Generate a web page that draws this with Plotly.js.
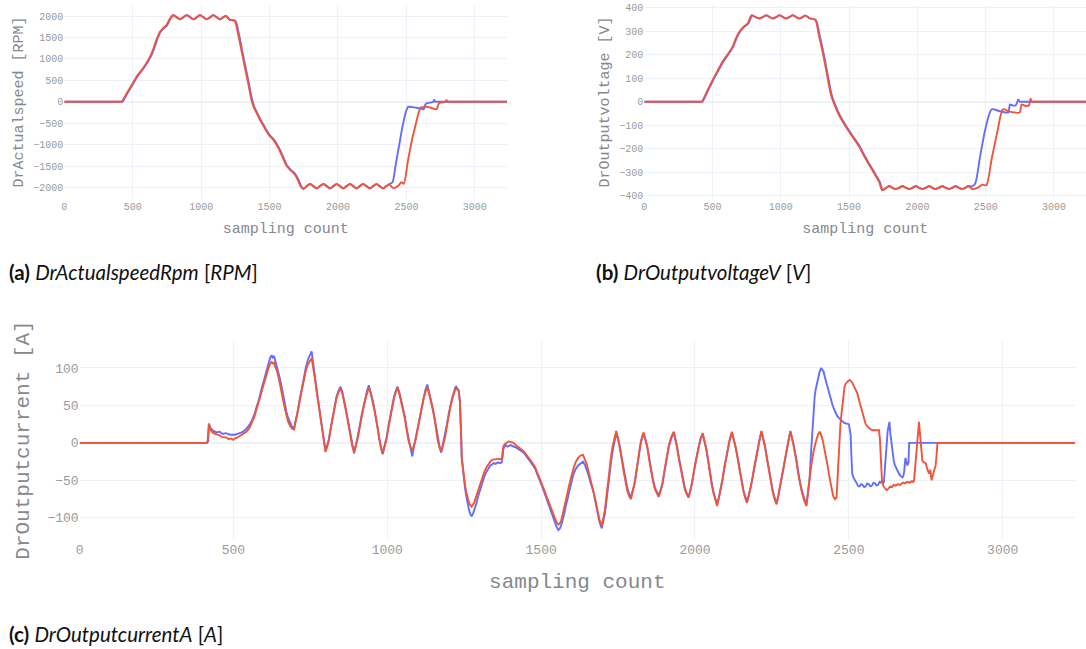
<!DOCTYPE html>
<html>
<head>
<meta charset="utf-8">
<script src="https://cdn.plot.ly/plotly-3.0.1.min.js"></script>
<style>
html,body{margin:0;padding:0;background:#fff;}
#chart{width:1086px;height:649px;}
</style>
</head>
<body>
<div id="chart"></div>
<script>
// ---------- data (sample index, value) ----------
const speedBlue = [[0,0],[390,0],[412,0],[418,0],[425,0],[460,190],[505,430],[540,620],[580,780],[630,1040],[655,1230],[680,1460],[703,1630],[725,1710],[752,1790],[778,1950],[800,2020],[822,1975],[847,1922],[870,1970],[897,2020],[920,1975],[945,1922],[968,1970],[993,2020],[1016,1975],[1040,1922],[1065,1970],[1090,2020],[1113,1975],[1138,1922],[1160,1970],[1183,2000],[1210,1910],[1250,1890],[1276,1580],[1300,1190],[1325,800],[1350,410],[1373,40],[1390,-130],[1410,-260],[1433,-410],[1460,-560],[1482,-690],[1505,-790],[1530,-880],[1555,-1000],[1580,-1150],[1605,-1330],[1628,-1490],[1655,-1590],[1680,-1660],[1700,-1750],[1715,-1850],[1735,-1990],[1750,-2030],[1772,-1970],[1798,-1920],[1822,-1970],[1847,-2020],[1870,-1970],[1896,-1920],[1920,-1970],[1944,-2020],[1968,-1970],[1992,-1920],[2016,-1970],[2040,-2020],[2064,-1970],[2089,-1920],[2112,-1970],[2137,-2020],[2160,-1970],[2184,-1920],[2208,-1970],[2234,-2020],[2258,-1970],[2282,-1920],[2305,-1970],[2330,-2020],[2352,-1970],[2376,-1920],[2398,-1880],[2420,-1500],[2445,-1050],[2470,-600],[2495,-250],[2513,-120],[2545,-125],[2575,-140],[2605,-160],[2627,-178],[2632,-120],[2640,-60],[2647,-40],[2671,-20],[2695,-8],[2703,50],[2710,0],[2716,0],[2730,0],[2760,0],[3235,0]];
const speedRed = [[0,0],[385,0],[407,0],[414,0],[420,0],[455,190],[500,430],[535,620],[575,780],[625,1040],[650,1230],[675,1460],[698,1630],[720,1710],[747,1790],[773,1950],[796,2025],[818,1975],[845,1925],[868,1970],[894,2025],[918,1975],[942,1925],[966,1970],[991,2025],[1015,1975],[1040,1925],[1064,1970],[1088,2025],[1112,1975],[1137,1925],[1160,1970],[1181,2005],[1210,1915],[1245,1890],[1270,1580],[1295,1190],[1320,800],[1345,410],[1368,40],[1385,-130],[1405,-260],[1428,-410],[1455,-560],[1477,-690],[1500,-790],[1525,-880],[1550,-1000],[1575,-1150],[1600,-1330],[1623,-1490],[1650,-1590],[1675,-1660],[1695,-1750],[1710,-1850],[1730,-1990],[1746,-2035],[1770,-1970],[1794,-1920],[1818,-1970],[1843,-2025],[1867,-1970],[1892,-1920],[1916,-1970],[1941,-2025],[1965,-1970],[1989,-1920],[2013,-1970],[2038,-2025],[2062,-1970],[2087,-1920],[2110,-1970],[2135,-2025],[2158,-1970],[2184,-1920],[2207,-1970],[2233,-2025],[2256,-1970],[2281,-1920],[2305,-1970],[2330,-2025],[2352,-1970],[2374,-1930],[2403,-2015],[2440,-1960],[2464,-1880],[2481,-1915],[2510,-1400],[2540,-900],[2570,-500],[2603,-140],[2625,-125],[2647,-116],[2680,-140],[2720,-178],[2730,-100],[2737,-40],[2744,-23],[2781,-5],[2793,38],[2800,0],[2806,0],[2820,0],[2850,0],[3235,0]];

const voltBlue = [[0,0],[390,0],[412,0],[418,0],[425,0],[465,45],[505,92],[545,135],[580,172],[620,205],[650,232],[675,268],[700,296],[735,320],[762,332],[790,366],[815,360],[845,353],[870,360],[894,367],[918,360],[942,353],[968,360],[991,367],[1016,360],[1040,353],[1065,360],[1088,367],[1113,360],[1137,353],[1160,360],[1181,366],[1212,354],[1257,347],[1283,285],[1310,215],[1340,125],[1372,30],[1395,-8],[1430,-55],[1478,-103],[1520,-140],[1575,-187],[1610,-225],[1648,-264],[1675,-290],[1700,-315],[1725,-340],[1746,-373],[1770,-366],[1794,-358],[1818,-365],[1843,-370],[1867,-365],[1892,-358],[1916,-365],[1941,-370],[1965,-365],[1989,-358],[2013,-365],[2038,-370],[2062,-365],[2087,-358],[2110,-365],[2135,-370],[2158,-365],[2184,-358],[2207,-365],[2233,-370],[2256,-365],[2281,-358],[2305,-365],[2330,-370],[2352,-365],[2374,-358],[2398,-360],[2423,-348],[2460,-230],[2500,-110],[2544,-32],[2598,-39],[2666,-46],[2672,-30],[2678,-11],[2695,-15],[2720,-16],[2739,10],[2749,0],[2755,0],[2770,0],[2800,0],[3235,0]];
const voltRed = [[0,0],[385,0],[407,0],[414,0],[420,0],[460,45],[500,92],[540,135],[575,172],[615,205],[645,232],[670,268],[695,296],[730,320],[757,332],[786,368],[812,360],[842,354],[868,360],[892,368],[916,360],[940,354],[966,360],[989,368],[1014,360],[1038,354],[1063,360],[1086,368],[1111,360],[1135,354],[1158,360],[1179,367],[1210,355],[1252,348],[1278,285],[1305,215],[1335,125],[1367,30],[1390,-8],[1425,-55],[1473,-103],[1515,-140],[1570,-187],[1605,-225],[1643,-264],[1670,-290],[1695,-315],[1720,-340],[1742,-376],[1768,-367],[1792,-359],[1816,-366],[1841,-371],[1865,-366],[1890,-359],[1914,-366],[1939,-371],[1963,-366],[1987,-359],[2011,-366],[2036,-371],[2060,-366],[2085,-359],[2108,-366],[2133,-371],[2156,-366],[2182,-359],[2205,-366],[2231,-371],[2254,-366],[2279,-359],[2303,-366],[2328,-371],[2350,-366],[2372,-359],[2400,-370],[2440,-366],[2476,-352],[2505,-355],[2545,-240],[2585,-130],[2627,-32],[2671,-41],[2749,-46],[2757,-28],[2764,-11],[2793,-18],[2817,-16],[2829,13],[2837,0],[2843,0],[2860,0],[2890,0],[3235,0]];

const currBlue = [[0,0],[415,0],[418,3],[421,25],[425,20],[435,16],[445,14],[455,15],[465,12],[475,13],[490,11],[505,11],[520,13],[532,15],[542,19],[552,24],[560,30],[568,38],[575,48],[583,58],[590,70],[596,79],[602,88],[608,97],[614,106],[619,113],[624,117],[628,114],[632,116],[636,110],[640,106],[646,96],[651,86],[657,74],[662,62],[667,52],[672,42],[678,33],[685,25],[691,21],[697,20],[702,28],[708,40],[714,55],[721,71],[728,86],[735,100],[742,111],[748,118],[754,122],[757,113],[760,105],[765,88],[770,72],[776,55],[781,40],[786,26],[790,12],[795,0],[799,-10],[804,-4],[810,5],[816,20],[822,35],[829,50],[835,62],[842,70],[848,75],[854,68],[860,58],[865,46],[870,35],[876,21],[881,8],[886,-4],[892,-14],[898,-3],[905,10],[911,24],[917,38],[924,52],[930,62],[935,71],[940,77],[946,68],[952,58],[958,46],[963,35],[969,19],[974,5],[979,-6],[985,-15],[991,-4],[998,8],[1004,23],[1010,38],[1016,51],[1022,62],[1028,70],[1033,75],[1039,68],[1045,58],[1051,46],[1057,35],[1063,19],[1069,5],[1075,-8],[1081,-18],[1087,-4],[1093,8],[1100,23],[1106,38],[1112,51],[1118,62],[1124,71],[1130,78],[1136,68],[1142,58],[1148,46],[1153,35],[1159,19],[1164,5],[1170,-5],[1175,-13],[1181,-2],[1188,10],[1194,25],[1200,40],[1206,52],[1212,62],[1218,70],[1223,76],[1228,72],[1232,70],[1236,55],[1238,40],[1240,10],[1242,-20],[1245,-35],[1248,-45],[1252,-58],[1256,-70],[1261,-82],[1266,-90],[1270,-95],[1274,-98],[1279,-94],[1284,-88],[1290,-80],[1296,-70],[1303,-60],[1310,-50],[1316,-44],[1323,-38],[1329,-34],[1335,-30],[1340,-29],[1345,-27],[1352,-28],[1360,-26],[1366,-27],[1372,-26],[1375,-18],[1377,-8],[1381,-5],[1385,-3],[1390,-5],[1394,-4],[1402,-3],[1410,-5],[1418,-6],[1425,-8],[1433,-10],[1440,-12],[1447,-15],[1453,-18],[1459,-21],[1465,-24],[1472,-29],[1480,-34],[1488,-42],[1497,-50],[1504,-59],[1512,-68],[1520,-77],[1529,-88],[1536,-97],[1543,-105],[1550,-112],[1556,-116],[1561,-114],[1565,-110],[1570,-103],[1575,-95],[1580,-85],[1585,-75],[1590,-66],[1594,-58],[1600,-50],[1605,-42],[1612,-35],[1620,-30],[1628,-27],[1636,-25],[1642,-29],[1648,-35],[1654,-43],[1660,-52],[1665,-58],[1670,-65],[1677,-80],[1684,-95],[1690,-106],[1697,-114],[1702,-106],[1707,-95],[1711,-82],[1714,-70],[1718,-55],[1722,-40],[1727,-26],[1732,-12],[1738,2],[1744,13],[1750,5],[1756,-5],[1762,-20],[1768,-35],[1774,-48],[1780,-60],[1786,-68],[1792,-72],[1797,-64],[1803,-55],[1808,-42],[1812,-30],[1817,-17],[1822,-5],[1827,5],[1833,12],[1839,4],[1845,-5],[1851,-20],[1857,-35],[1863,-48],[1870,-60],[1876,-66],[1882,-70],[1888,-63],[1894,-55],[1899,-42],[1904,-30],[1910,-17],[1915,-5],[1923,6],[1931,14],[1936,5],[1942,-5],[1948,-20],[1955,-35],[1961,-48],[1967,-60],[1973,-67],[1979,-72],[1985,-63],[1990,-55],[1995,-42],[2000,-30],[2006,-17],[2012,-5],[2018,5],[2025,12],[2031,2],[2037,-8],[2043,-23],[2048,-38],[2054,-52],[2060,-65],[2066,-74],[2072,-82],[2078,-72],[2084,-62],[2090,-48],[2095,-35],[2101,-21],[2107,-8],[2113,4],[2120,14],[2126,5],[2132,-5],[2139,-20],[2145,-35],[2151,-49],[2157,-62],[2163,-71],[2169,-79],[2175,-69],[2181,-60],[2187,-47],[2192,-35],[2198,-21],[2204,-8],[2210,4],[2216,15],[2222,5],[2228,-5],[2234,-20],[2240,-35],[2246,-49],[2252,-62],[2258,-72],[2265,-81],[2271,-70],[2276,-60],[2282,-47],[2287,-35],[2293,-21],[2298,-8],[2304,4],[2310,15],[2316,5],[2322,-5],[2329,-21],[2335,-38],[2341,-52],[2348,-65],[2355,-75],[2362,-83],[2367,-68],[2372,-50],[2376,-20],[2380,10],[2383,30],[2386,50],[2389,62],[2392,71],[2396,80],[2400,88],[2405,95],[2410,100],[2414,97],[2418,95],[2422,88],[2427,80],[2431,73],[2435,67],[2440,60],[2446,52],[2451,46],[2457,40],[2462,36],[2468,33],[2473,31],[2478,29],[2484,27],[2490,26],[2495,25],[2500,25],[2503,18],[2506,10],[2508,-15],[2511,-41],[2515,-46],[2520,-50],[2523,-53],[2527,-55],[2531,-58],[2535,-58],[2540,-55],[2545,-56],[2550,-59],[2555,-58],[2560,-54],[2565,-55],[2570,-58],[2575,-57],[2580,-53],[2585,-54],[2590,-57],[2595,-56],[2600,-52],[2604,-53],[2608,-50],[2611,-54],[2614,-52],[2617,-35],[2619,-20],[2623,0],[2626,15],[2629,22],[2632,28],[2635,12],[2638,0],[2642,-12],[2646,-24],[2650,-30],[2655,-35],[2659,-38],[2663,-41],[2668,-44],[2674,-46],[2677,-44],[2680,-38],[2682,-28],[2684,-20],[2687,-25],[2690,-30],[2692,-28],[2694,-25],[2696,0],[2790,0],[3235,0]];

const currRed = [[0,0],[412,0],[416,2],[420,26],[425,18],[432,14],[440,12],[448,11],[455,10],[462,8],[470,8],[478,7],[485,5],[492,6],[500,4],[505,6],[512,7],[520,9],[532,12],[542,15],[552,20],[560,27],[568,35],[575,45],[583,55],[590,66],[596,75],[602,84],[608,92],[614,100],[619,105],[624,108],[628,106],[632,107],[636,101],[640,98],[646,89],[651,80],[657,68],[662,56],[667,46],[672,36],[678,28],[685,22],[691,19],[697,18],[702,27],[708,38],[714,53],[721,68],[728,82],[735,96],[742,105],[748,110],[754,113],[757,106],[760,100],[765,85],[770,70],[776,53],[781,38],[786,24],[790,10],[795,-2],[799,-12],[804,-6],[810,3],[816,18],[822,33],[829,48],[835,60],[842,68],[848,73],[854,66],[860,56],[865,44],[870,33],[876,19],[881,6],[886,-4],[892,-12],[898,-3],[905,8],[911,22],[917,36],[924,50],[930,60],[935,68],[940,74],[946,66],[952,56],[958,44],[963,33],[969,17],[974,3],[979,-6],[985,-14],[991,-5],[998,6],[1004,21],[1010,36],[1016,49],[1022,60],[1028,68],[1033,73],[1039,66],[1045,56],[1051,44],[1057,33],[1063,17],[1069,3],[1075,-5],[1081,-10],[1087,-3],[1093,6],[1100,21],[1106,36],[1112,49],[1118,60],[1124,68],[1130,74],[1136,66],[1142,56],[1148,44],[1153,33],[1159,17],[1164,3],[1170,-6],[1175,-12],[1181,-3],[1188,8],[1194,23],[1200,38],[1206,50],[1212,60],[1218,68],[1223,74],[1228,71],[1232,70],[1236,55],[1238,40],[1240,10],[1242,-20],[1245,-32],[1248,-42],[1252,-54],[1256,-65],[1261,-74],[1266,-80],[1270,-83],[1274,-85],[1279,-82],[1284,-78],[1290,-70],[1296,-62],[1303,-52],[1310,-44],[1316,-38],[1323,-32],[1329,-28],[1335,-25],[1340,-23],[1345,-22],[1352,-22],[1360,-21],[1366,-22],[1372,-21],[1375,-12],[1377,-5],[1381,-2],[1385,0],[1390,1],[1394,2],[1402,1],[1410,0],[1418,-3],[1425,-5],[1433,-8],[1440,-10],[1447,-13],[1453,-16],[1459,-19],[1465,-22],[1472,-27],[1480,-32],[1488,-40],[1497,-48],[1504,-57],[1512,-65],[1520,-74],[1529,-84],[1536,-93],[1543,-100],[1550,-106],[1556,-109],[1561,-107],[1565,-104],[1570,-96],[1575,-88],[1580,-78],[1585,-68],[1590,-58],[1594,-50],[1600,-42],[1605,-34],[1612,-26],[1620,-20],[1628,-17],[1636,-16],[1642,-21],[1648,-28],[1654,-38],[1660,-48],[1665,-55],[1670,-62],[1677,-77],[1684,-92],[1690,-103],[1697,-111],[1702,-102],[1707,-90],[1711,-76],[1714,-64],[1718,-48],[1722,-33],[1727,-19],[1732,-5],[1738,7],[1744,16],[1750,6],[1756,-6],[1762,-22],[1768,-38],[1774,-52],[1780,-64],[1786,-71],[1792,-75],[1797,-66],[1803,-56],[1808,-43],[1812,-30],[1817,-16],[1822,-3],[1827,7],[1833,14],[1839,5],[1845,-6],[1851,-22],[1857,-37],[1863,-50],[1870,-62],[1876,-68],[1882,-72],[1888,-64],[1894,-55],[1899,-42],[1904,-29],[1910,-16],[1915,-3],[1923,8],[1931,15],[1936,6],[1942,-6],[1948,-22],[1955,-37],[1961,-50],[1967,-62],[1973,-68],[1979,-73],[1985,-64],[1990,-55],[1995,-42],[2000,-29],[2006,-16],[2012,-3],[2018,6],[2025,13],[2031,3],[2037,-9],[2043,-25],[2048,-40],[2054,-55],[2060,-67],[2066,-77],[2072,-84],[2078,-73],[2084,-62],[2090,-47],[2095,-33],[2101,-19],[2107,-6],[2113,5],[2120,15],[2126,6],[2132,-6],[2139,-22],[2145,-37],[2151,-51],[2157,-64],[2163,-73],[2169,-80],[2175,-70],[2181,-59],[2187,-46],[2192,-33],[2198,-19],[2204,-6],[2210,5],[2216,16],[2222,6],[2228,-6],[2234,-22],[2240,-37],[2246,-51],[2252,-64],[2258,-74],[2265,-82],[2271,-70],[2276,-59],[2282,-46],[2287,-33],[2293,-19],[2298,-6],[2304,5],[2310,16],[2316,6],[2322,-6],[2329,-23],[2335,-40],[2341,-54],[2348,-67],[2355,-77],[2362,-84],[2368,-62],[2374,-40],[2380,-24],[2386,-10],[2390,-2],[2395,5],[2400,11],[2405,15],[2409,12],[2412,8],[2416,2],[2419,-5],[2423,-12],[2427,-20],[2431,-30],[2435,-41],[2439,-50],[2442,-58],[2446,-65],[2449,-71],[2452,-73],[2455,-75],[2458,-73],[2460,-74],[2463,-50],[2466,-20],[2470,5],[2473,27],[2477,42],[2480,55],[2483,66],[2486,75],[2490,79],[2495,82],[2499,83],[2503,84],[2507,82],[2512,80],[2516,76],[2520,72],[2524,69],[2527,67],[2532,59],[2538,50],[2543,40],[2549,31],[2554,26],[2560,22],[2565,20],[2571,18],[2578,17],[2585,17],[2591,18],[2598,17],[2601,5],[2603,-10],[2606,-35],[2608,-53],[2612,-57],[2616,-60],[2620,-62],[2624,-63],[2630,-60],[2635,-58],[2640,-59],[2646,-56],[2652,-57],[2660,-55],[2667,-56],[2675,-53],[2682,-54],[2690,-52],[2697,-53],[2705,-51],[2709,-52],[2712,-50],[2715,-35],[2718,-20],[2720,-2],[2723,15],[2725,22],[2728,28],[2730,18],[2733,5],[2736,-10],[2739,-24],[2744,-26],[2750,-27],[2755,-35],[2761,-41],[2763,-38],[2765,-36],[2767,-44],[2769,-50],[2771,-46],[2774,-42],[2777,-38],[2780,-34],[2782,-30],[2784,-22],[2786,-15],[2788,0],[3235,0]];

// ---------- texts ----------
const xTitle = 'sampling count';
const yTitles = ['DrActualspeed [RPM]', 'DrOutputvoltage [V]', 'DrOutputcurrent [A]'];
const captions = [
  '<b>(a)</b> <i>DrActualspeedRpm</i> [<i>RPM</i>]',
  '<b>(b)</b> <i>DrOutputvoltageV</i> [<i>V</i>]',
  '<b>(c)</b> <i>DrOutputcurrentA</i> [<i>A</i>]'
];
const xTicks = [0, 500, 1000, 1500, 2000, 2500, 3000];

// ---------- build ----------
const W = 1086, H = 649;
const BLUE = '#636efa', RED = '#EF553B';
const px = v => v / W;
const py = v => 1 - v / H;

function tr(pairs, color, xa, ya, w, smooth) {
  return {
    x: pairs.map(p => p[0]), y: pairs.map(p => p[1]),
    type: 'scatter', mode: 'lines', xaxis: xa, yaxis: ya,
    line: smooth ? {color: color, width: w, shape: 'spline', smoothing: 0.7} : {color: color, width: w},
    hoverinfo: 'skip', showlegend: false
  };
}

const data = [
  tr(speedBlue, BLUE, 'x', 'y', 1.9, true), tr(speedRed, RED, 'x', 'y', 1.9, true),
  tr(voltBlue, BLUE, 'x2', 'y2', 1.9, true), tr(voltRed, RED, 'x2', 'y2', 1.9, true),
  tr(currBlue, BLUE, 'x3', 'y3', 1.9, false), tr(currRed, RED, 'x3', 'y3', 1.9, false)
];

const MONO = 'Courier New, Liberation Mono, monospace';
const GRID = '#EDF1F8';
const TICKC = '#9a9a9a';
const TITC = '#85888f';

function xax(dom, anchor, tsize, titleSize, standoff) {
  return {
    domain: dom, anchor: anchor, range: [0, 3235],
    tickvals: xTicks, ticktext: xTicks.map(String),
    showgrid: true, gridcolor: GRID, zeroline: false, showline: false, ticks: '',
    tickfont: {family: MONO, size: tsize, color: TICKC},
    title: {text: xTitle, font: {family: MONO, size: titleSize, color: TITC}, standoff: standoff},
    automargin: false
  };
}
function yax(dom, anchor, range, dtick, tsize, title, titleSize, standoff) {
  return {
    domain: dom, anchor: anchor, range: range, dtick: dtick,
    showgrid: true, gridcolor: GRID, zeroline: true, zerolinecolor: GRID, zerolinewidth: 2,
    showline: false, ticks: '',
    tickfont: {family: MONO, size: tsize, color: TICKC},
    title: {text: title, font: {family: MONO, size: titleSize, color: TITC}, standoff: standoff},
    automargin: false
  };
}

const CAP = {family: 'Lato', size: 20.5, color: '#111'};

const layout = {
  width: W, height: H,
  margin: {l: 0, r: 0, t: 0, b: 0},
  paper_bgcolor: '#fff', plot_bgcolor: '#fff',
  showlegend: false,
  xaxis:  xax([px(64.3), px(507)], 'y', 10, 15, 10),
  yaxis:  yax([py(199), py(5)], 'x', [-2270, 2258], 500, 10, yTitles[0], 15, 6),
  xaxis2: xax([px(644.3), 1], 'y2', 10, 15, 10),
  yaxis2: yax([py(199), py(5)], 'x2', [-413, 411], 100, 10, yTitles[1], 15, 6),
  xaxis3: xax([px(79.6), px(1075)], 'y3', 13, 21, 16),
  yaxis3: yax([py(540), py(340)], 'x3', [-129.5, 137.3], 50, 13, yTitles[2], 21, 12),
  annotations: [
    {text: captions[0], x: px(7), y: py(272), xref: 'paper', yref: 'paper', xanchor: 'left', yanchor: 'middle', showarrow: false, font: CAP},
    {text: captions[1], x: px(594), y: py(272), xref: 'paper', yref: 'paper', xanchor: 'left', yanchor: 'middle', showarrow: false, font: CAP},
    {text: captions[2], x: px(7), y: py(634), xref: 'paper', yref: 'paper', xanchor: 'left', yanchor: 'middle', showarrow: false, font: CAP}
  ]
};

Plotly.newPlot('chart', data, layout, {displayModeBar: false, staticPlot: true});
</script>
</body>
</html>
